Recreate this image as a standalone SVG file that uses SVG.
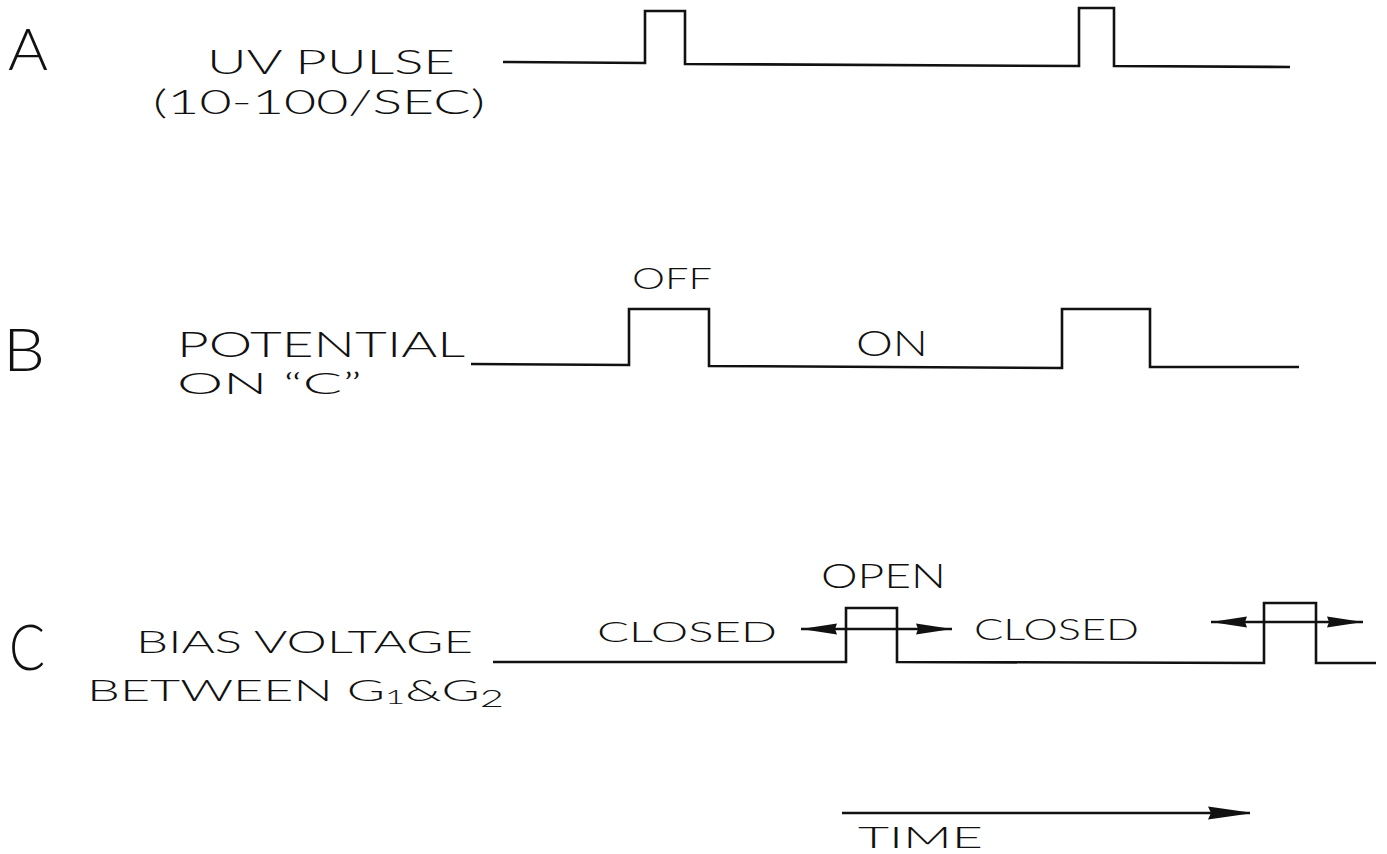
<svg xmlns="http://www.w3.org/2000/svg" width="1387" height="854" viewBox="0 0 1387 854">
<style>
.t{font-family:"Lato","Liberation Sans",Arial,sans-serif;font-weight:300;fill:#111}
.L{font-family:"Lato","Open Sans","Liberation Sans",sans-serif;font-weight:300;fill:#111}
.w{fill:none;stroke:#111;stroke-width:2.6;stroke-linejoin:miter}
.a{stroke:#111;stroke-width:2.4;fill:none}
</style>
<defs>
<marker id="ah" markerUnits="userSpaceOnUse" markerWidth="40" markerHeight="14" refX="36" refY="7" orient="auto-start-reverse">
<path d="M0,1.5 L36,7 L0,12.5 L2,7 z" fill="#111"/>
</marker>
<marker id="ahT" markerUnits="userSpaceOnUse" markerWidth="46" markerHeight="16" refX="42" refY="8" orient="auto">
<path d="M0,1.5 L42,7.5 L42,8.5 L0,14.5 L3,8 z" fill="#111"/>
</marker>
</defs>
<rect width="1387" height="854" fill="#fff"/>

<g id="rowA">
<text class="L" x="8" y="70" font-size="58" textLength="40" lengthAdjust="spacingAndGlyphs">A</text>
<text class="t" x="207" y="74" font-size="33" textLength="248" lengthAdjust="spacingAndGlyphs">UV PULSE</text>
<text class="t" x="153" y="114" font-size="34" textLength="332" lengthAdjust="spacingAndGlyphs">(10-100/SEC)</text>
<path class="w" d="M503,62 L645,63 L645,11 L685,11 L685,64 L1079,66 L1079,8 L1114,8 L1114,66 L1290,67"/>
</g>

<g id="rowB">
<text class="L" x="3" y="371" font-size="60" textLength="42" lengthAdjust="spacingAndGlyphs">B</text>
<text class="t" x="177" y="357" font-size="36" textLength="288" lengthAdjust="spacingAndGlyphs">POTENTIAL</text>
<text class="t" x="177" y="394" font-size="29" textLength="185" lengthAdjust="spacingAndGlyphs">ON “C”</text>
<text class="t" x="632" y="289" font-size="29" textLength="80" lengthAdjust="spacingAndGlyphs">OFF</text>
<text class="t" x="856" y="356" font-size="35" textLength="72" lengthAdjust="spacingAndGlyphs">ON</text>
<path class="w" d="M471,364 L629,365 L629,309 L709,309 L709,366 L1062,368 L1062,309 L1150,309 L1150,367 L1299,367"/>
</g>

<g id="rowC">
<text class="L" x="9" y="670" font-size="64" textLength="36" lengthAdjust="spacingAndGlyphs">C</text>
<text class="t" x="136" y="653" font-size="32" textLength="337" lengthAdjust="spacingAndGlyphs">BIAS VOLTAGE</text>
<text class="t" x="87" y="701" font-size="30" textLength="417" lengthAdjust="spacingAndGlyphs">BETWEEN G<tspan font-size="20" dy="3">1</tspan><tspan dy="-3">&amp;G</tspan><tspan font-size="24" dy="6">2</tspan></text>
<text class="t" x="597" y="642" font-size="28" textLength="180" lengthAdjust="spacingAndGlyphs">CLOSED</text>
<text class="t" x="821" y="588" font-size="34" textLength="125" lengthAdjust="spacingAndGlyphs">OPEN</text>
<text class="t" x="974" y="640" font-size="29" textLength="165" lengthAdjust="spacingAndGlyphs">CLOSED</text>
<path class="w" d="M493,662 L846,662 L846,608 L897,608 L897,662 L1264,663 L1264,603 L1316,603 L1316,663 L1376,663"/>
</g>

<g id="timeAxis">
<text class="t" x="858" y="848" font-size="30" textLength="125" lengthAdjust="spacingAndGlyphs">TIME</text>
</g>

<g id="connectors">
<line class="a" x1="801" y1="629" x2="952" y2="629" marker-start="url(#ah)" marker-end="url(#ah)"/>
<line class="a" x1="1211" y1="622" x2="1363" y2="622" marker-start="url(#ah)" marker-end="url(#ah)"/>
<line class="a" x1="842" y1="813" x2="1250" y2="813" marker-end="url(#ahT)"/>
</g>
</svg>
